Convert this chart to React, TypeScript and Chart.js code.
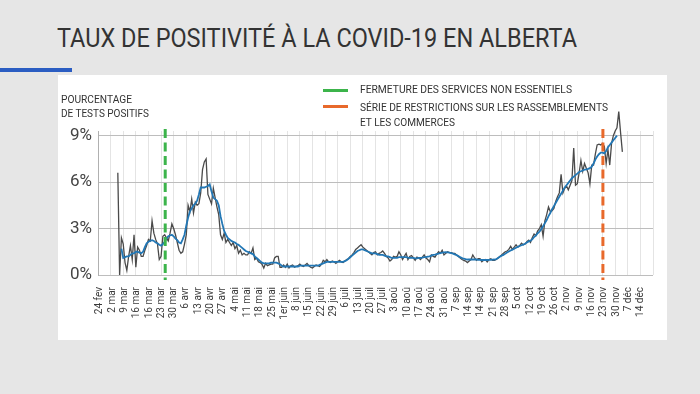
import React, { useEffect, useLayoutEffect, useRef } from "react";
import { Chart, registerables } from "chart.js";

Chart.register(...registerables);

const FONT = "Roboto, 'Noto Sans', sans-serif";

// Weekly tick labels (as printed, including the duplicated ones)
const WEEK_LABELS = [
  "24 fev", "2 mar", "9 mar", "16 mar", "16 mar", "23 mar", "30 mar", "6 avr", "13 avr", "20 avr",
  "27 avr", "4 mai", "11 mai", "18 mai", "25 mai", "1er juin", "8 juin", "15 juin", "22 juin", "29 juin",
  "6 juil", "13 juil", "20 juil", "27 juil", "3 aoû", "10 aoû", "17 aoû", "24 aoû", "31 aoû", "7 sep",
  "14 sep", "14 sep", "21 sep", "28 sep", "5 oct", "12 oct", "19 oct", "26 oct", "2 nov", "9 nov",
  "16 nov", "23 nov", "30 nov", "7 déc", "14 déc",
];

const Y_TICKS = [0, 3, 6, 9];

// Daily positivity (%), day index counted from 24 fév
const DAILY_START = 11;
const DAILY = [
  6.6, 0.0, 2.4, 2.0, 0.8, 0.3, 1.2, 1.9, 1.0, 2.6,
  0.5, 1.8, 1.6, 1.2, 1.2, 1.6, 1.9, 2.3, 2.2, 3.5,
  2.7, 2.3, 2.0, 1.0, 1.2, 2.5, 2.6, 2.4, 2.2, 2.7,
  3.3, 3.0, 2.6, 2.1, 1.6, 1.4, 1.5, 2.0, 2.6, 4.5,
  4.1, 4.9, 4.0, 4.7, 4.5, 4.6, 5.3, 6.8, 7.3, 7.5,
  5.2, 4.9, 4.6, 5.6, 5.0, 4.4, 3.9, 2.6, 2.3, 2.7,
  2.1, 2.3, 2.1, 1.9, 2.1, 1.7, 1.9, 1.4, 1.6, 1.3,
  1.4, 1.3, 1.3, 1.5, 1.4, 1.75, 1.0, 1.1, 0.85, 0.8,
  0.7, 0.45, 0.75, 0.6, 0.65, 0.7, 0.7, 1.1, 1.2, 1.2,
  0.5, 0.5, 0.65, 0.5, 0.7, 0.45, 0.6, 0.65, 0.5, 0.55,
  0.6, 0.7, 0.6, 0.55, 0.65, 0.75, 0.6, 0.5, 0.45, 0.55,
  0.65, 0.6, 0.55, 0.7, 0.95, 0.85, 1.0, 0.85, 0.8, 0.9,
  0.85, 0.75, 0.85, 0.95, 0.85, 0.8, 0.9, 1.0, 1.05, 1.2,
  1.3, 1.45, 1.65, 1.75, 1.85, 1.95, 1.8, 1.7, 1.6, 1.5,
  1.4, 1.3, 1.45, 1.5, 1.3, 1.4, 1.45, 1.55, 1.4, 1.2,
  1.1, 0.9, 1.0, 1.2, 1.15, 1.2, 1.5, 1.3, 1.0, 1.2,
  1.4, 1.0, 1.2, 1.25, 1.1, 0.95, 1.15, 1.1, 1.0, 1.15,
  1.3, 1.1, 1.0, 0.85, 1.3, 1.2, 1.15, 1.35, 1.5, 1.4,
  1.6, 1.3, 1.4, 1.5, 1.45, 1.45, 1.4, 1.4, 1.3, 1.2,
  1.1, 1.0, 0.95, 0.9, 0.8, 0.9, 1.0, 1.3, 1.1, 0.95,
  1.05, 1.05, 0.85, 0.95, 1.0, 0.85, 1.0, 1.05, 0.95, 0.95,
  1.0, 1.1, 1.2, 1.3, 1.4, 1.5, 1.55, 1.65, 1.85, 1.65,
  1.8, 1.95, 1.8, 1.9, 2.05, 1.95, 2.0, 2.15, 2.25, 2.1,
  2.4, 2.65, 2.55, 2.85, 3.0, 3.25, 2.5, 3.5, 3.9, 4.4,
  4.1, 4.15, 4.3, 4.75, 5.05, 5.3, 6.5, 5.3, 5.6, 5.75,
  5.5, 5.8, 6.1, 8.2, 5.8, 5.9, 6.6, 7.4, 6.7, 7.2,
  6.9, 6.6, 5.9, 7.1, 7.1, 7.8, 8.4, 8.45, 8.4, 8.5,
  8.3, 7.2, 8.1, 7.1, 8.5, 9.0, 9.3, 9.5, 10.55, 9.2,
  7.95,
];

// 7-day average (%)
const AVG_START = 13;
const AVG = [
  1.7, 1.1, 1.15, 1.2, 1.2, 1.3, 1.4, 1.4, 1.5, 1.5,
  1.45, 1.4, 1.5, 1.8, 2.05, 2.15, 2.2, 2.25, 2.2, 2.1,
  2.05, 1.95, 1.9, 2.0, 2.15, 2.35, 2.5, 2.55, 2.6, 2.5,
  2.35, 2.25, 2.1, 2.05, 2.3, 2.6, 3.2, 3.7, 4.1, 4.3,
  4.5, 4.6, 4.8, 5.2, 5.65, 5.65, 5.65, 5.7, 5.75, 5.85,
  5.4, 5.0, 4.9, 4.8, 4.5, 3.8, 3.3, 2.85, 2.6, 2.4,
  2.3, 2.2, 2.15, 2.1, 2.0, 1.95, 1.85, 1.75, 1.65, 1.55,
  1.5, 1.45, 1.4, 1.35, 1.2, 1.1, 1.0, 0.9, 0.8, 0.75,
  0.75, 0.75, 0.75, 0.8, 0.8, 0.8, 0.8, 0.75, 0.7, 0.6,
  0.55, 0.55, 0.55, 0.55, 0.55, 0.55, 0.55, 0.55, 0.55, 0.6,
  0.6, 0.6, 0.6, 0.6, 0.6, 0.6, 0.6, 0.6, 0.6, 0.6,
  0.65, 0.7, 0.75, 0.8, 0.85, 0.85, 0.85, 0.85, 0.85, 0.85,
  0.85, 0.85, 0.85, 0.85, 0.9, 0.95, 1.05, 1.15, 1.25, 1.35,
  1.45, 1.55, 1.6, 1.65, 1.65, 1.6, 1.55, 1.5, 1.45, 1.4,
  1.4, 1.4, 1.35, 1.3, 1.3, 1.3, 1.25, 1.2, 1.2, 1.15,
  1.1, 1.1, 1.1, 1.1, 1.15, 1.15, 1.15, 1.15, 1.15, 1.12,
  1.1, 1.1, 1.1, 1.08, 1.08, 1.1, 1.1, 1.12, 1.15, 1.15,
  1.18, 1.2, 1.25, 1.3, 1.32, 1.35, 1.38, 1.42, 1.45, 1.46,
  1.47, 1.46, 1.45, 1.42, 1.38, 1.33, 1.28, 1.22, 1.15, 1.1,
  1.05, 1.02, 1.0, 1.0, 1.0, 1.0, 1.0, 1.0, 0.98, 0.98,
  0.97, 0.97, 0.97, 0.97, 0.98, 0.98, 0.99, 1.0, 1.02, 1.1,
  1.18, 1.25, 1.3, 1.38, 1.45, 1.52, 1.58, 1.64, 1.7, 1.76,
  1.82, 1.87, 1.92, 1.96, 2.02, 2.1, 2.17, 2.22, 2.3, 2.45,
  2.55, 2.7, 2.8, 2.95, 3.15, 3.35, 3.55, 3.8, 4.0, 4.25,
  4.45, 4.65, 4.85, 5.05, 5.25, 5.45, 5.65, 5.8, 5.95, 6.1,
  6.25, 6.35, 6.45, 6.55, 6.65, 6.7, 6.75, 6.8, 6.82, 6.85,
  6.9, 7.0, 7.2, 7.45, 7.65, 7.8, 7.9, 7.9, 7.85, 8.0,
  8.25, 8.4, 8.55, 8.7, 8.85, 9.0,
];

// Event marker days (same day index)
const EVENT_DAYS = [37.3, 280.2];
const EVENT_COLORS = ["#3cb44b", "#e8692b"];
const LEGEND_LABELS = [
  ["FERMETURE DES SERVICES NON ESSENTIELS"],
  ["SÉRIE DE RESTRICTIONS SUR LES RASSEMBLEMENTS", "ET LES COMMERCES"],
];

const TITLE = "TAUX DE POSITIVITÉ À LA COVID-19 EN ALBERTA";
const Y_TITLE = ["POURCENTAGE", "DE TESTS POSITIFS"];

function FitText(props: { text: string; left: number; cy: number; width: number; size: number; color: string }) {
  const ref = useRef<HTMLSpanElement>(null);
  useLayoutEffect(() => {
    const el = ref.current;
    if (!el) return;
    el.style.transform = "none";
    const w = el.getBoundingClientRect().width;
    if (w > 0) el.style.transform = `scaleX(${props.width / w})`;
  }, [props.text, props.width]);
  return (
    <span
      ref={ref}
      style={{
        position: "absolute",
        left: props.left,
        top: props.cy - props.size / 2,
        fontSize: props.size,
        lineHeight: `${props.size}px`,
        whiteSpace: "nowrap",
        transformOrigin: "left center",
        fontFamily: FONT,
        color: props.color,
      }}
    >
      {props.text}
    </span>
  );
}

const eventLines = {
  id: "eventLines",
  afterDatasetsDraw(chart: any) {
    const { ctx, chartArea } = chart;
    const xs = chart.scales.x2;
    ctx.save();
    EVENT_DAYS.forEach((d, i) => {
      const x = xs.getPixelForValue(d);
      ctx.strokeStyle = EVENT_COLORS[i];
      ctx.lineWidth = 3;
      ctx.setLineDash([9, 4.5]);
      ctx.beginPath();
      ctx.moveTo(x, chartArea.top - 2);
      ctx.lineTo(x, chartArea.bottom + 5);
      ctx.stroke();
    });
    ctx.restore();
  },
};

export default function App() {
  const canvasRef = useRef<HTMLCanvasElement>(null);

  useEffect(() => {
    const canvas = canvasRef.current;
    if (!canvas) return;
    const dailyPts = DAILY.map((v, i) => ({ x: DAILY_START + i, y: v }));
    const avgPts = AVG.map((v, i) => ({ x: AVG_START + i, y: v }));
    const chart = new Chart(canvas, {
      type: "line",
      data: {
        datasets: [
          {
            label: "Moyenne 7 jours",
            data: avgPts,
            xAxisID: "x2",
            borderColor: "#2277b5",
            borderWidth: 1.8,
            pointRadius: 0,
            tension: 0,
            clip: false as any,
          },
          {
            label: "Quotidien",
            data: dailyPts,
            xAxisID: "x2",
            borderColor: "#4a4a4a",
            borderWidth: 1.3,
            pointRadius: 0,
            tension: 0,
            clip: false as any,
          },
        ],
      },
      options: {
        animation: false,
        responsive: false,
        events: [],
        layout: { padding: { left: 0, right: 14, top: 56, bottom: 0 } },
        plugins: { legend: { display: false }, tooltip: { enabled: false } },
        scales: {
          x: {
            type: "linear",
            position: "bottom",
            min: -0.16,
            max: 45.0,
            afterBuildTicks: (s: any) => {
              s.ticks = WEEK_LABELS.map((_, i) => ({ value: i }));
            },
            afterFit: (s: any) => {
              s.height = 65;
            },
            grid: { display: false, drawTicks: false },
            border: { display: false },
            ticks: {
              autoSkip: false,
              maxRotation: 90,
              minRotation: 90,
              padding: 12,
              color: "#3a3a3a",
              font: { family: FONT, size: 10 },
              callback: (v: any) => WEEK_LABELS[Math.round(v)] ?? "",
            },
          },
          x2: {
            type: "linear",
            position: "bottom",
            min: 0,
            max: 308,
            afterBuildTicks: (s: any) => {
              s.ticks = WEEK_LABELS.map((_, i) => ({ value: i * 7 }));
            },
            afterFit: (s: any) => {
              s.height = 0;
            },
            grid: { color: "#e4e4e4", lineWidth: 1, drawTicks: false },
            border: { display: false },
            ticks: { display: false },
          },
          y: {
            type: "linear",
            min: 0,
            max: 9.3,
            afterBuildTicks: (s: any) => {
              s.ticks = Y_TICKS.map((v) => ({ value: v }));
            },
            afterFit: (s: any) => {
              s.width = 40;
            },
            grid: { color: "#bdbdbd", lineWidth: 1, drawTicks: false },
            border: { display: true, color: "#b0b0b0", width: 1 },
            ticks: {
              padding: 6,
              color: "#444",
              font: { family: FONT, size: 17 },
              callback: (v: any) => `${v}%`,
            },
          },
        },
      },
      plugins: [eventLines],
    });
    return () => chart.destroy();
  }, []);

  return (
    <div
      style={{
        position: "fixed",
        left: 0,
        top: 0,
        width: 700,
        height: 394,
        background: "#e6e6e6",
        overflow: "hidden",
        fontFamily: FONT,
      }}
    >
      <FitText text={TITLE} left={57} cy={38} width={520} size={25} color="#333" />
      <div style={{ position: "absolute", left: 0, top: 68, width: 72, height: 4, background: "#2b5dc2" }} />
      <div style={{ position: "absolute", left: 58, top: 75, width: 609, height: 265, background: "#fff" }}>
        <canvas ref={canvasRef} width={609} height={265} style={{ width: 609, height: 265, display: "block" }} />
      </div>
      <FitText text={Y_TITLE[0]} left={61} cy={100} width={71} size={10} color="#333" />
      <FitText text={Y_TITLE[1]} left={61} cy={114} width={88} size={10} color="#333" />
      <div style={{ position: "absolute", left: 323, top: 89, width: 25, height: 3, background: EVENT_COLORS[0] }} />
      <div style={{ position: "absolute", left: 323, top: 105, width: 25, height: 3, background: EVENT_COLORS[1] }} />
      <FitText text={LEGEND_LABELS[0][0]} left={360} cy={90} width={212} size={10} color="#333" />
      <FitText text={LEGEND_LABELS[1][0]} left={360} cy={108} width={248} size={10} color="#333" />
      <FitText text={LEGEND_LABELS[1][1]} left={360} cy={122.5} width={95} size={10} color="#333" />
    </div>
  );
}
